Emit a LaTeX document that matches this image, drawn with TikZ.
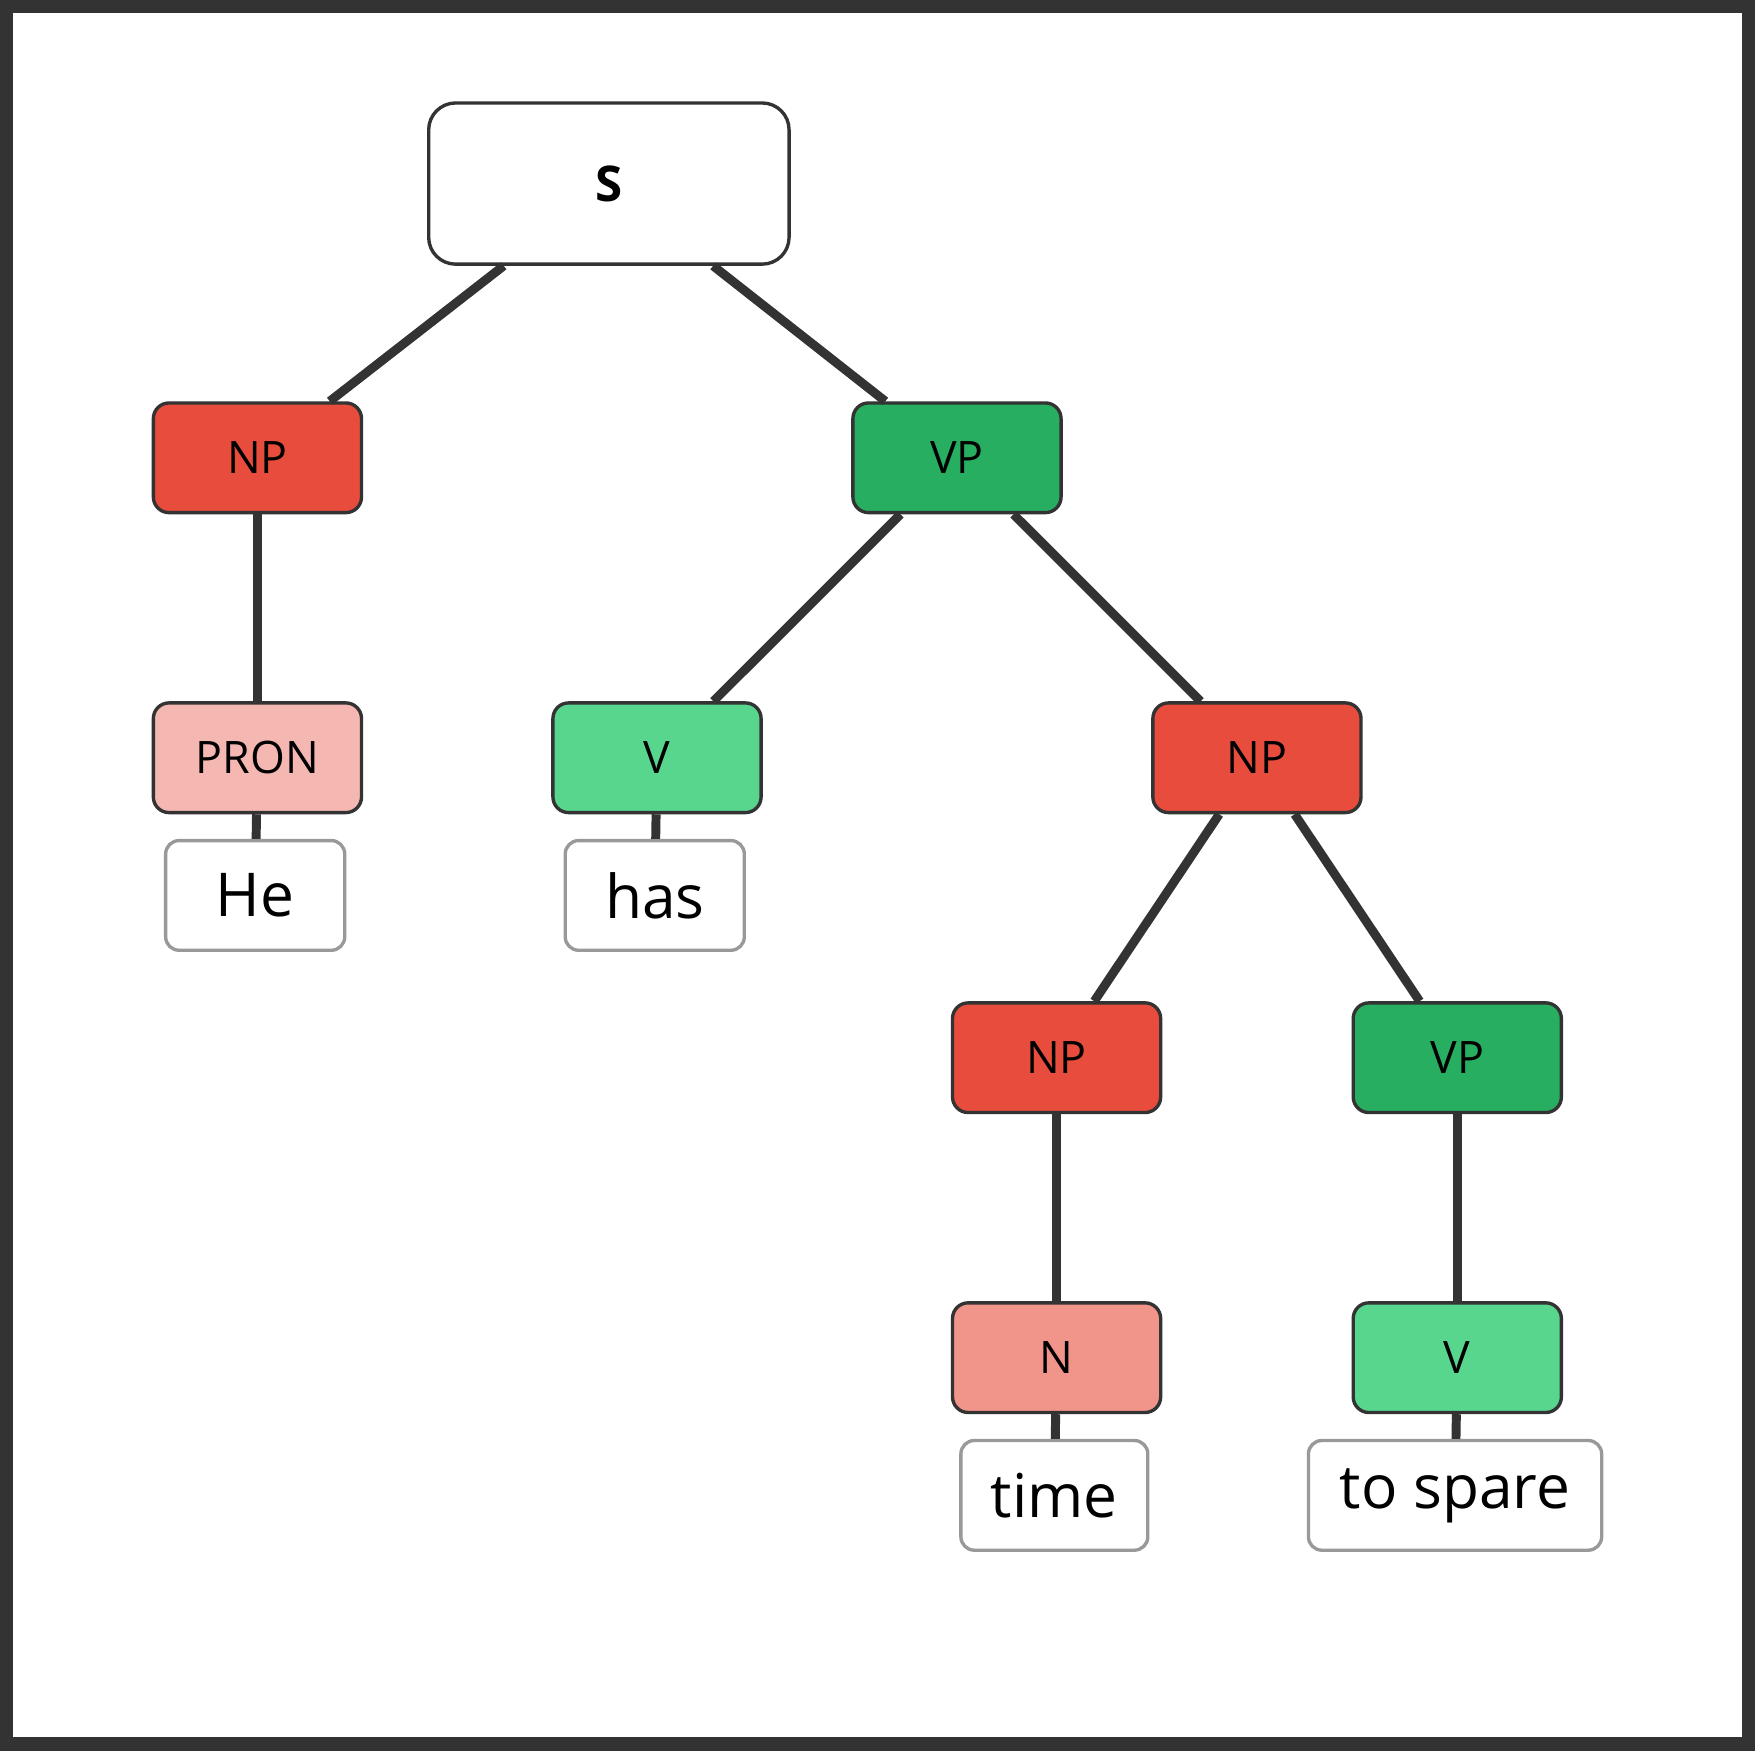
\documentclass[tikz,border=0pt]{standalone}
\usepackage{fontspec}
\setmainfont{Open Sans}
\begin{document}
\begin{tikzpicture}[x=1pt,y=-1pt,
  cat/.style={draw=black!80,line width=3pt,rounded corners=14pt,minimum width=186pt,minimum height=98pt,inner sep=0pt,font=\fontsize{40}{48}\selectfont},
  leaf/.style={draw=black!40,fill=white,line width=3pt,rounded corners=12pt,minimum height=98pt,inner sep=0pt,font=\fontsize{54}{64}\selectfont},
  edge/.style={draw=black!80,line width=8pt}]
\draw[black!80,line width=12pt,fill=white] (6,6) rectangle (1562,1558);
\useasboundingbox (0,0) rectangle (1568,1564);
\node[cat,fill=white,minimum width=322pt,minimum height=144pt,rounded corners=24pt,font=\fontsize{44}{52}\selectfont\bfseries] (s) at (544,164) {S};
\node[cat,fill=red!60!orange!90!black,fill={rgb,255:red,231;green,76;blue,60}] (np1) at (230,409) {NP};
\node[cat,fill={rgb,255:red,39;green,174;blue,96}] (vp1) at (855,409) {VP};
\node[cat,fill={rgb,255:red,245;green,183;blue,177}] (pron) at (230,677) {PRON};
\node[cat,fill={rgb,255:red,88;green,214;blue,141}] (v1) at (587,677) {V};
\node[cat,fill={rgb,255:red,231;green,76;blue,60}] (np2) at (1123,677) {NP};
\node[cat,fill={rgb,255:red,231;green,76;blue,60}] (np3) at (944,945) {NP};
\node[cat,fill={rgb,255:red,39;green,174;blue,96}] (vp2) at (1302,945) {VP};
\node[cat,fill={rgb,255:red,241;green,148;blue,138}] (n) at (944,1213) {N};
\node[cat,fill={rgb,255:red,88;green,214;blue,141}] (v2) at (1302,1213) {V};
\node[leaf,minimum width=160pt] (he) at (228,800) {He};
\node[leaf,minimum width=160pt] (has) at (585,800) {has};
\node[leaf,minimum width=167pt] (time) at (942,1336) {time};
\node[leaf,minimum width=262pt] (spare) at (1300,1336) {to spare};
\begin{scope}[on background layer/.style={}]
\end{scope}
\draw[edge] (s) -- (np1);
\draw[edge] (s) -- (vp1);
\draw[edge] (np1) -- (pron);
\draw[edge] (vp1) -- (v1);
\draw[edge] (vp1) -- (np2);
\draw[edge] (np2) -- (np3);
\draw[edge] (np2) -- (vp2);
\draw[edge] (np3) -- (n);
\draw[edge] (vp2) -- (v2);
\draw[edge] (pron) -- (he);
\draw[edge] (v1) -- (has);
\draw[edge] (n) -- (time);
\draw[edge] (v2) -- (spare);
\end{tikzpicture}
\end{document}
